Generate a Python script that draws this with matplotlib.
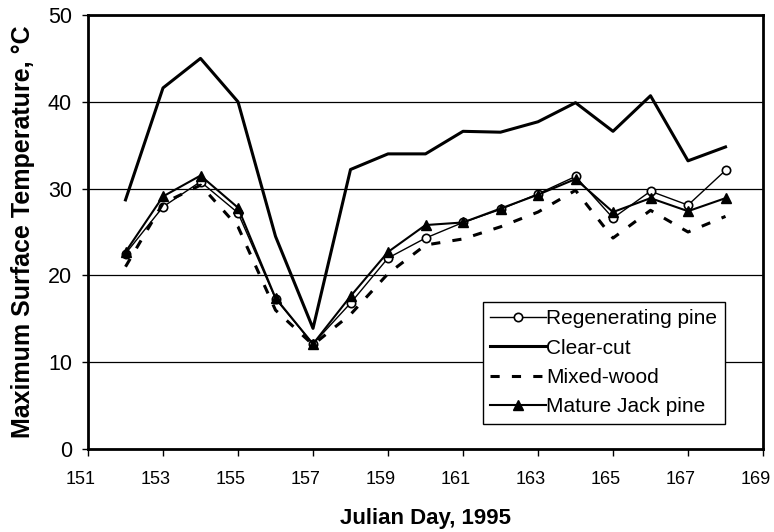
import matplotlib.pyplot as plt
import matplotlib.transforms as mtransforms

plt.rcParams['font.family'] = ['Liberation Sans', 'DejaVu Sans']

days = [152, 153, 154, 155, 156, 157, 158, 159, 160, 161, 162, 163, 164, 165, 166, 167, 168]
regen_pine = [22.5, 27.9, 30.8, 27.2, 17.3, 12.1, 16.8, 22.0, 24.3, 26.1, 27.6, 29.4, 31.4, 26.6, 29.7, 28.1, 32.1]
clear_cut = [28.7, 41.6, 45.0, 40.0, 24.5, 13.9, 32.2, 34.0, 34.0, 36.6, 36.5, 37.7, 39.9, 36.6, 40.7, 33.2, 34.8]
mixed_wood = [21.0, 28.3, 30.4, 25.6, 16.0, 12.0, 15.5, 20.2, 23.5, 24.2, 25.6, 27.3, 29.8, 24.3, 27.5, 25.0, 26.8]
jack_pine = [22.7, 29.1, 31.5, 27.8, 17.4, 12.1, 17.6, 22.7, 25.8, 26.1, 27.7, 29.3, 31.1, 27.3, 28.9, 27.4, 28.9]

fig = plt.figure(figsize=(7.74, 5.32), dpi=100)
ax = fig.add_axes([0.1137, 0.156, 0.8721, 0.8158])

ax.plot(days, regen_pine, color='black', linewidth=1.0, marker='o', markersize=6,
        markerfacecolor='white', markeredgecolor='black', markeredgewidth=1.2,
        label='Regenerating pine')
ax.plot(days, clear_cut, color='black', linewidth=2.2, label='Clear-cut')
ax.plot(days, mixed_wood, color='black', linewidth=2.2, linestyle=(0, (3, 4)), label='Mixed-wood')
ax.plot(days, jack_pine, color='black', linewidth=1.5, marker='^', markersize=7,
        markerfacecolor='black', markeredgecolor='black', label='Mature Jack pine')

ax.set_xlim(151, 169)
ax.set_ylim(0, 50)
ax.set_xticks(range(151, 170, 2))
ax.set_yticks(range(0, 51, 10))
ax.yaxis.grid(True, color='black', linewidth=0.9)
ax.set_axisbelow(True)

for s in ax.spines.values():
    s.set_linewidth(2.0)

ax.tick_params(axis='x', direction='out', length=5, width=1, labelsize=13, pad=11)
ax.tick_params(axis='y', direction='out', length=4.5, width=1, labelsize=15.5, pad=7)

# x labels sit a little left of their ticks in the original
shift = mtransforms.ScaledTranslation(-0.07, 0, fig.dpi_scale_trans)
for lab in ax.get_xticklabels():
    lab.set_transform(lab.get_transform() + shift)

ax.set_xlabel('Julian Day, 1995', fontsize=16, fontweight='bold', labelpad=14)
ax.set_ylabel('Maximum Surface Temperature, °C', fontsize=18, fontweight='bold', labelpad=9)

leg = ax.legend(loc='upper left', bbox_to_anchor=(0.585, 0.339), fontsize=15,
                handlelength=2.7, handletextpad=0.0, labelspacing=0.5,
                borderpad=0.35, borderaxespad=0, fancybox=False, framealpha=1,
                edgecolor='black')
leg.get_frame().set_linewidth(1.0)

plt.savefig('out.png', dpi=100)
